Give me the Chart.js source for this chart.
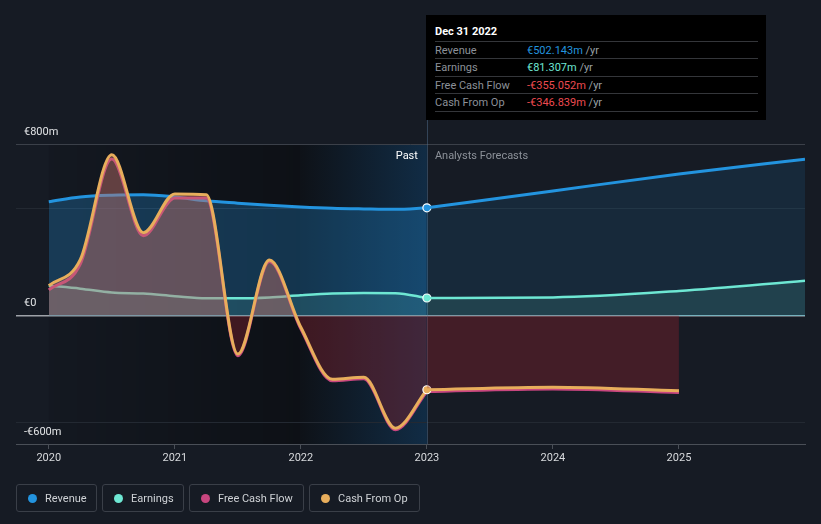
<!DOCTYPE html>
<html lang="en">
  <head>
    <meta charset="UTF-8" />
    <meta name="viewport" content="width=device-width, initial-scale=1.0" />
    <script src="https://cdn.jsdelivr.net/npm/chart.js@4.4.0/dist/chart.umd.min.js"></script>
    <title>Revenue, Earnings and Cash Flow</title>
    <style>
      body { margin: 0; background: #161b24; font-family: Roboto, "Noto Sans", sans-serif; }
      #wrap { position: relative; width: 821px; height: 524px; }
      #tip { position: absolute; left: 426px; top: 15px; width: 340px; height: 105px; background: #000; font-size: 11px; }
      #tip .title { position: absolute; left: 9px; top: 10px; color: #fff; font-weight: bold; }
      #tip .row { position: absolute; left: 9px; width: 323px; height: 17px; border-top: 1px solid #34363a; line-height: 17px; }
      #tip .lab { position: absolute; left: 0; color: #8c9199; }
      #tip .val { position: absolute; left: 92px; }
      #tip .yr { color: #9aa0a6; }
      #legend { position: absolute; left: 16px; top: 484px; display: flex; gap: 5px; }
      #legend .item { box-sizing: border-box; height: 28px; border: 1px solid #3a3f48; border-radius: 3px; display: flex; align-items: center; padding-left: 11px; color: #cfd2d6; font-size: 11px; }
      #legend .dot { width: 9px; height: 9px; border-radius: 50%; margin-right: 8px; }
    </style>
  </head>
  <body>
    <div id="wrap">
      <canvas id="myChart"></canvas>
      <div id="tip">
        <div class="title">Dec 31 2022</div>
        <div class="row" style="top:26px"><span class="lab">Revenue</span><span class="val"><span style="color:#2394df">€502.143m</span> <span class="yr">/yr</span></span></div>
        <div class="row" style="top:43px"><span class="lab">Earnings</span><span class="val"><span style="color:#6ee7d3">€81.307m</span> <span class="yr">/yr</span></span></div>
        <div class="row" style="top:61px"><span class="lab">Free Cash Flow</span><span class="val"><span style="color:#ed4a50">-€355.052m</span> <span class="yr">/yr</span></span></div>
        <div class="row" style="top:78px; border-bottom:1px solid #34363a"><span class="lab">Cash From Op</span><span class="val"><span style="color:#ed4a50">-€346.839m</span> <span class="yr">/yr</span></span></div>
      </div>
      <div id="legend">
        <div class="item" style="width:81px"><span class="dot" style="background:#2394df"></span>Revenue</div>
        <div class="item" style="width:82px"><span class="dot" style="background:#6ee7d3"></span>Earnings</div>
        <div class="item" style="width:115px"><span class="dot" style="background:#c8467f"></span>Free Cash Flow</div>
        <div class="item" style="width:111px"><span class="dot" style="background:#e8ae5c"></span>Cash From Op</div>
      </div>
    </div>

    <script>
      // past values, trailing twelve months at each quarter end (€m)
      const pastYears = [2020, 2020.25, 2020.5, 2020.75, 2021, 2021.25, 2021.5, 2021.75, 2022, 2022.25, 2022.5, 2022.75, 2023];
      const revenuePast = [531, 553, 561, 563, 553, 535, 524, 514, 506, 500, 497, 495, 502.143];
      const earningsPast = [139, 125, 107, 102, 90, 80, 80, 84, 94, 102, 105, 104, 81.307];
      const fcfPast = [119, 240, 730, 372, 548, 548, -188, 252, -62, -305, -296, -533, -355.052];
      const cfoPast = [139, 260, 750, 386, 567, 563, -180, 259, -55, -298, -289, -526, -346.839];

      // analyst forecasts
      const futureYears = [2023, 2024, 2025, 2026];
      const revenueFuture = [502.143, 581, 660, 729];
      const earningsFuture = [81.307, 84, 114, 162];
      const cashYears = [2023, 2024, 2025];
      const fcfFuture = [-355.052, -343, -360];
      const cfoFuture = [-346.839, -335, -352];

      const xTicks = [2020, 2021, 2022, 2023, 2024, 2025];
      const yTicks = [-600, -500, 0, 500, 800];
      const yLabels = { '800': '€800m', '0': '€0', '-600': '-€600m' };

      const toXY = (xs, ys) => xs.map((x, i) => ({ x: x, y: ys[i] }));
      const lastDot = n => ctx => ctx.dataIndex === n - 1 ? 4 : 0;

      function line(data, color, width, fill, order, dots) {
        return {
          data: data,
          borderColor: color,
          borderWidth: width,
          backgroundColor: color,
          fill: fill,
          order: order,
          cubicInterpolationMode: 'monotone',
          pointRadius: dots ? lastDot(data.length) : 0,
          pointBackgroundColor: color,
          pointBorderColor: '#ffffff',
          pointBorderWidth: 1.2,
          pointHoverRadius: 0
        };
      }

      const fcfFill = { target: 'origin', above: 'rgba(180,95,110,0.18)', below: 'rgba(140,35,50,0.18)' };
      const cfoFill = { target: 'origin', above: 'rgba(195,120,105,0.34)', below: 'rgba(140,35,45,0.26)' };

      const bands = {
        id: 'bands',
        beforeDraw(chart) {
          const { ctx, chartArea: a, scales: { x } } = chart;
          const x0 = x.getPixelForValue(2020), x1 = x.getPixelForValue(2022), x2 = x.getPixelForValue(2023);
          let g = ctx.createLinearGradient(x0, 0, x1, 0);
          g.addColorStop(0, 'rgba(0,0,0,0.08)');
          g.addColorStop(1, 'rgba(0,0,0,0.38)');
          ctx.fillStyle = g;
          ctx.fillRect(x0, a.top, x1 - x0, a.bottom - a.top);
          g = ctx.createLinearGradient(x1, 0, x2, 0);
          g.addColorStop(0, '#0e1218');
          g.addColorStop(1, '#112c45');
          ctx.fillStyle = g;
          ctx.fillRect(x1, a.top, x2 - x1, a.bottom - a.top);
        },
        beforeDatasetsDraw(chart) {
          const { ctx, chartArea: a, scales: { x } } = chart;
          const xp = Math.round(x.getPixelForValue(2023)) + 0.5;
          ctx.save();
          ctx.strokeStyle = 'rgba(80,110,140,0.5)';
          ctx.lineWidth = 1;
          ctx.beginPath();
          ctx.moveTo(xp, 120);
          ctx.lineTo(xp, a.bottom);
          ctx.stroke();
          ctx.restore();
        },
        afterDraw(chart) {
          const { ctx, scales: { x } } = chart;
          const xp = x.getPixelForValue(2023);
          ctx.save();
          ctx.font = '11px Roboto, "Noto Sans", sans-serif';
          ctx.textBaseline = 'middle';
          ctx.textAlign = 'right';
          ctx.fillStyle = '#ffffff';
          ctx.fillText('Past', xp - 9, 156);
          ctx.textAlign = 'left';
          ctx.fillStyle = '#8c9199';
          ctx.fillText('Analysts Forecasts', xp + 8, 156);
          ctx.restore();
        }
      };

      const ctx = document.getElementById('myChart').getContext('2d');
      const myChart = new Chart(ctx, {
        type: 'line',
        data: {
          datasets: [
            line(toXY(pastYears, revenuePast), '#2394df', 3, { target: 'origin', above: 'rgba(35,148,223,0.28)' }, 8, true),
            line(toXY(futureYears, revenueFuture), '#2394df', 3, { target: 'origin', above: 'rgba(35,148,223,0.12)' }, 7, false),
            line(toXY(pastYears, earningsPast), '#6ee7d3', 2.5, { target: 'origin', above: 'rgba(110,231,211,0.13)' }, 6, true),
            line(toXY(futureYears, earningsFuture), '#6ee7d3', 2.5, { target: 'origin', above: 'rgba(110,231,211,0.13)' }, 5, false),
            line(toXY(pastYears, fcfPast), '#c8467f', 3, fcfFill, 4, false),
            line(toXY(cashYears, fcfFuture), '#c8467f', 3, fcfFill, 3, false),
            line(toXY(pastYears, cfoPast), '#e8ae5c', 3, cfoFill, 2, true),
            line(toXY(cashYears, cfoFuture), '#e8ae5c', 3, cfoFill, 1, false)
          ]
        },
        options: {
          responsive: true,
          maintainAspectRatio: false,
          animation: false,
          events: [],
          layout: { padding: { top: 144, left: 16, right: 16, bottom: 0 } },
          plugins: { legend: { display: false }, tooltip: { enabled: false } },
          scales: {
            x: {
              type: 'linear',
              min: 2019.74,
              max: 2026,
              afterBuildTicks: s => { s.ticks = xTicks.map(v => ({ value: v })); },
              afterFit: s => { s.height = 80; },
              grid: { drawOnChartArea: false, drawTicks: true, tickLength: 5, color: '#4a4f57' },
              border: { display: true, color: '#4a4f57' },
              ticks: { color: '#d8dadd', font: { size: 11, family: 'Roboto' }, padding: 3, maxRotation: 0, autoSkip: false, callback: v => String(v) }
            },
            y: {
              min: -600,
              max: 800,
              afterBuildTicks: s => { s.ticks = yTicks.map(v => ({ value: v })); },
              afterFit: s => { s.width = 0; },
              border: { display: false },
              grid: {
                drawTicks: false,
                color: c => c.tick.value === 0 ? '#9ea2a8' : c.tick.value === 800 ? '#3b4049' : c.tick.value === -600 ? '#4a4f57' : '#232932',
                lineWidth: c => c.tick.value === 0 ? 1.5 : 1
              },
              ticks: {
                mirror: true,
                padding: 8,
                labelOffset: -12,
                color: '#e2e4e6',
                font: { size: 11, family: 'Roboto' },
                callback: v => yLabels[String(v)] || ''
              }
            }
          }
        },
        plugins: [bands]
      });
    </script>
  </body>
</html>
